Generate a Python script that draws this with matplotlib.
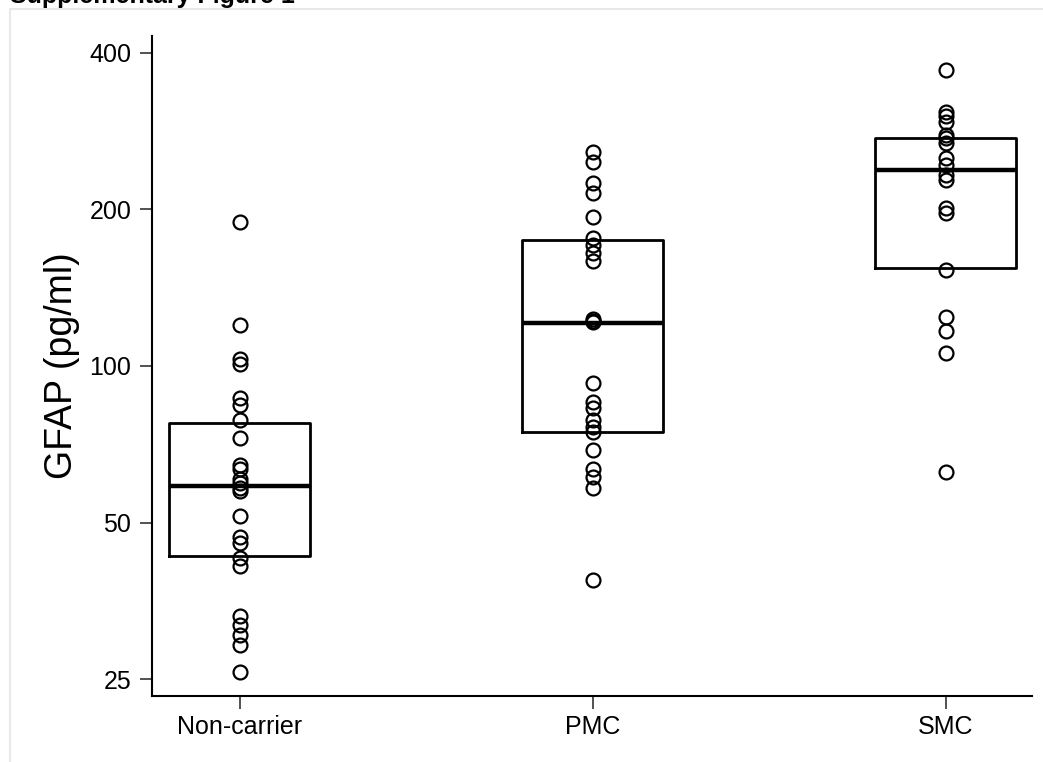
import numpy as np
import matplotlib
matplotlib.use("Agg")
import matplotlib.pyplot as plt
from matplotlib.patches import Rectangle

plt.rcParams['font.family'] = ['Liberation Sans', 'DejaVu Sans']

# --- data (GFAP, pg/ml)
groups = ["Non-carrier", "PMC", "SMC"]
noncarrier = [189, 120, 103, 101, 86.6, 84, 78.7, 72.8, 64.4, 63.5, 60.7, 59.5,
              58.2, 57.4, 51.4, 47.0, 45.6, 42.7, 41.2, 33.0, 31.8, 30.4, 29.1, 25.8]
pmc = [258, 247, 225, 215, 193, 176, 171, 165, 159, 123, 122, 121.5, 92.6, 85.4,
       82.9, 78.7, 76.4, 74.7, 68.9, 63.5, 61.2, 58.2, 38.8]
smc = [371, 308, 302, 295, 278, 274, 268, 251, 243, 233, 228, 201, 197, 153,
       124, 116.5, 106, 62.6]
q1 = [43.1, 74.5, 154.3]
medians = [58.8, 121.2, 238.6]
q3 = [77.8, 174.7, 274.1]
yticks = [25, 50, 100, 200, 400]

fig = plt.figure(figsize=(10.43, 7.62), dpi=100)
ax = fig.add_axes([152 / 1043, 66 / 762, 880 / 1043, 660 / 762])

stats = []
for name, lo, med, hi in zip(groups, q1, medians, q3):
    stats.append({"label": name, "q1": lo, "med": med, "q3": hi,
                  "whislo": lo, "whishi": hi, "fliers": []})
ax.bxp(stats, positions=[0, 1, 2], widths=0.4, showcaps=False,
       boxprops=dict(color="black", linewidth=2),
       medianprops=dict(color="black", linewidth=3.2),
       whiskerprops=dict(linewidth=0))

for i, vals in enumerate([noncarrier, pmc, smc]):
    ax.plot(np.full(len(vals), i), vals, "o", ms=10, mfc="none",
            mec="black", mew=1.6, zorder=3)

ax.set_yscale("log", base=2)
ax.set_ylim(23.2, 431)
ax.set_xlim(-0.248, 2.245)
ax.set_yticks(yticks)
ax.set_yticklabels([str(t) for t in yticks])
ax.minorticks_off()
ax.set_xticks([0, 1, 2])
ax.set_xticklabels(groups)
ax.tick_params(axis="both", labelsize=18, length=9, width=1.2, pad=5, color="#333333")
ax.tick_params(axis="y", pad=6)
for s in ["top", "right"]:
    ax.spines[s].set_visible(False)
for s in ["left", "bottom"]:
    ax.spines[s].set_linewidth(1.5)

ax.set_ylabel("GFAP (pg/ml)", fontsize=27)
ax.yaxis.set_label_coords(-0.082, 0.5)

# faint page frame and clipped heading
fig.patches.append(Rectangle((10 / 1043, -0.1), 1.2, 1.1 - 9 / 762, transform=fig.transFigure,
                             fill=False, edgecolor="#e8e8e8", linewidth=1.5))
fig.text(10 / 1043, 1 - 3.5 / 762, "Supplementary Figure 1", fontsize=18,
         fontweight="bold", va="baseline", ha="left")

fig.savefig("out.png", dpi=100)
